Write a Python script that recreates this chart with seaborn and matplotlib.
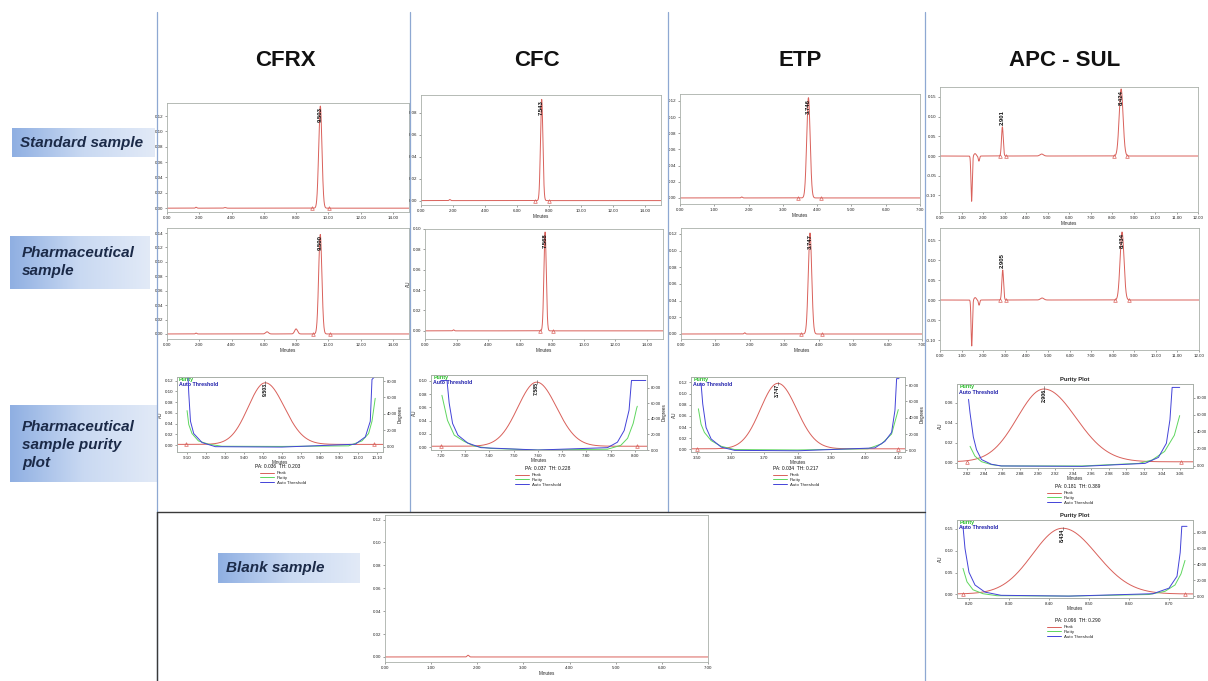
import numpy as np
import pandas as pd
import matplotlib
matplotlib.use("Agg")
import matplotlib.pyplot as plt
import seaborn as sns
from matplotlib.lines import Line2D
from matplotlib.colors import LinearSegmentedColormap

sns.set_theme(style="white")
plt.rcParams['font.family'] = ['Liberation Sans', 'DejaVu Sans']

W, H = 1208, 681
RED = "#d9605a"
GREEN = "#5fd65f"
BLUE = "#4343d8"

# ---------------- text ----------------
columns = ["CFRX", "CFC", "ETP", "APC - SUL"]
row_labels = ["Standard sample", "Pharmaceutical\nsample",
              "Pharmaceutical\nsample purity\nplot", "Blank sample"]

# ---------------- standard chromatograms ----------------
cfrx_std_rt = [1.80, 3.60, 9.503]
cfrx_std_h = [0.0012, 0.0008, 0.133]
cfrx_std_sd = [0.04, 0.06, 0.10]
cfrx_std_lab = [None, None, "9.503"]
cfrx_std_tri = [9.00, 10.05]

cfc_std_rt = [1.80, 7.543]
cfc_std_h = [0.0010, 0.092]
cfc_std_sd = [0.04, 0.075]
cfc_std_lab = [None, "7.543"]
cfc_std_tri = [7.10, 8.00]

etp_std_rt = [1.80, 3.746]
etp_std_h = [0.0012, 0.124]
etp_std_sd = [0.02, 0.05]
etp_std_lab = [None, "3.746"]
etp_std_tri = [3.45, 4.10]

apc_std_rt = [1.47, 1.63, 1.81, 2.901, 4.73, 8.424]
apc_std_h = [-0.115, 0.006, -0.013, 0.074, 0.005, 0.170]
apc_std_sd = [0.03, 0.05, 0.03, 0.04, 0.08, 0.09]
apc_std_lab = [None, None, None, "2.901", None, "8.424"]
apc_std_tri = [2.79, 3.06, 8.10, 8.70]

# ---------------- pharmaceutical chromatograms ----------------
cfrx_ph_rt = [1.80, 6.20, 8.00, 9.500]
cfrx_ph_h = [0.0012, 0.003, 0.007, 0.138]
cfrx_ph_sd = [0.04, 0.09, 0.09, 0.10]
cfrx_ph_lab = [None, None, None, "9.500"]
cfrx_ph_tri = [9.06, 10.10]

cfc_ph_rt = [1.80, 7.568]
cfc_ph_h = [0.0010, 0.097]
cfc_ph_sd = [0.04, 0.075]
cfc_ph_lab = [None, "7.568"]
cfc_ph_tri = [7.27, 8.09]

etp_ph_rt = [1.85, 3.747]
etp_ph_h = [0.0015, 0.121]
etp_ph_sd = [0.02, 0.05]
etp_ph_lab = [None, "3.747"]
etp_ph_tri = [3.49, 4.10]

apc_ph_rt = [1.47, 1.63, 1.81, 2.905, 4.73, 8.434]
apc_ph_h = [-0.115, 0.006, -0.013, 0.075, 0.005, 0.170]
apc_ph_sd = [0.03, 0.05, 0.03, 0.04, 0.08, 0.09]
apc_ph_lab = [None, None, None, "2.905", None, "8.434"]
apc_ph_tri = [2.80, 3.06, 8.12, 8.74]

# ---------------- blank ----------------
blank_rt = [1.80]
blank_h = [0.0015]
blank_sd = [0.02]

# ---------------- purity plots ----------------
cfrx_pur_peak = (9.512, 0.115, 0.090, 0.100)   # rt, height, sd left, sd right
cfrx_pur_t = [9.100, 9.109, 9.126, 9.160, 9.214, 9.284, 9.600, 9.951, 10.021, 10.056, 10.074, 10.091]
cfrx_pur_d = [44, 27, 16, 7, 3, 0.5, 0.3, 1, 7, 16, 31, 59]
cfrx_thr_t = [9.105, 9.109, 9.118, 9.135, 9.179, 9.249, 9.600, 9.986, 10.039, 10.065, 10.074, 10.091]
cfrx_thr_d = [86, 65, 31, 16, 5, 0, -0.5, 3, 12, 31, 82, 86]
cfrx_pur_tri = [9.095, 10.082]
cfrx_pa = "PA: 0.036  TH: 0.203"

cfc_pur_peak = (7.595, 0.097, 0.078, 0.082)
cfc_pur_t = [7.204, 7.227, 7.255, 7.296, 7.337, 7.406, 7.600, 7.887, 7.942, 7.970, 7.993, 8.007, 8.010]
cfc_pur_d = [70, 38, 19, 11, 5, 2, 0, 1, 6, 15, 34, 53, 56]
cfc_thr_t = [7.200, 7.225, 7.234, 7.248, 7.270, 7.310, 7.365, 7.600, 7.887, 7.928, 7.956, 7.976, 7.986, 8.045]
cfc_thr_d = [89, 89, 60, 34, 19, 9, 3, 0, 3, 10, 25, 51, 89, 89]
cfc_pur_tri = [7.20, 8.01]
cfc_pa = "PA: 0.037  TH: 0.228"

etp_pur_peak = (3.741, 0.117, 0.052, 0.056)
etp_pur_t = [3.504, 3.512, 3.522, 3.542, 3.572, 3.612, 3.800, 4.010, 4.050, 4.080, 4.100]
etp_pur_d = [51, 32, 22, 12, 5, 1, 0.5, 2, 8, 20, 50]
etp_thr_t = [3.512, 3.517, 3.527, 3.542, 3.572, 3.612, 3.800, 4.030, 4.060, 4.080, 4.090, 4.095, 4.102]
etp_thr_d = [82, 57, 28, 14, 4, 0, -0.5, 3, 11, 22, 49, 88, 88]
etp_pur_tri = [3.50, 4.10]
etp_pa = "PA: 0.034  TH: 0.217"

apc1_pur_peak = (2.907, 0.0728, 0.030, 0.036)
apc1_pur_t = [2.8237, 2.8292, 2.8366, 2.8477, 2.8588, 2.950, 3.014, 3.029, 3.043, 3.054, 3.060]
apc1_pur_d = [23, 11.5, 5, 1.6, 0, 0, 3, 7, 17, 36, 59]
apc1_thr_t = [2.822, 2.8237, 2.8274, 2.831, 2.8366, 2.8477, 2.8588, 2.950, 3.021, 3.036, 3.045, 3.049, 3.0515, 3.060]
apc1_thr_d = [78, 62, 34, 19, 7.5, 2, 0, -0.5, 3, 10, 26.5, 54, 92, 92]
apc1_pur_tri = [2.820, 3.061]
apc1_pa = "PA: 0.181  TH: 0.389"

apc2_pur_peak = (8.434, 0.150, 0.075, 0.085)
apc2_pur_t = [8.185, 8.195, 8.210, 8.235, 8.270, 8.450, 8.650, 8.690, 8.715, 8.730, 8.740]
apc2_pur_d = [35, 18, 8, 3, 0.5, 0, 2, 6, 14, 28, 45]
apc2_thr_t = [8.185, 8.190, 8.200, 8.215, 8.240, 8.280, 8.450, 8.660, 8.700, 8.720, 8.728, 8.732, 8.745]
apc2_thr_d = [88, 60, 30, 14, 5, 1, 0, 3, 10, 25, 55, 88, 88]
apc2_pur_tri = [8.185, 8.740]
apc2_pa = "PA: 0.096  TH: 0.290"

# =====================================================================
fig = plt.figure(figsize=(W / 100, H / 100), dpi=100)
fig.patch.set_facecolor("white")


def add_ax(x0, y0, x1, y1):
    return fig.add_axes([x0 / W, 1 - y1 / H, (x1 - x0) / W, (y1 - y0) / H])


def fx(x):
    return x / W


def fy(y):
    return 1 - y / H


def style(ax, xlim, ylim, xticks, yticks, xlabel="", ylabel="", xpad=1.0):
    ax.set_xlim(xlim)
    ax.set_ylim(ylim)
    ax.set_xticks(xticks)
    ax.set_yticks(yticks)
    ax.set_xticklabels(["%.2f" % v for v in xticks])
    ax.set_yticklabels(["%.2f" % v for v in yticks])
    ax.tick_params(labelsize=3.2, length=1.5, width=0.4, pad=1.2,
                   colors="#555555", labelcolor="#222222", bottom=True, left=True)
    for s in ax.spines.values():
        s.set_color("#a9b0a9")
        s.set_linewidth(0.6)
    ax.set_xlabel(xlabel, fontsize=3.3, labelpad=xpad, color="#222222")
    ax.set_ylabel(ylabel, fontsize=3.3, labelpad=1, color="#222222")
    ax.set_facecolor("white")


def chromatogram(ax, xlim, rts, hs, sds, labs, tris):
    t = np.linspace(xlim[0], xlim[1], 5000)
    y = np.zeros_like(t)
    for rt, h, sd in zip(rts, hs, sds):
        y += h * np.exp(-0.5 * ((t - rt) / sd) ** 2)
    df = pd.DataFrame({"Minutes": t, "AU": y})
    sns.lineplot(data=df, x="Minutes", y="AU", ax=ax, color=RED, lw=0.7,
                 estimator=None, sort=False, legend=False)
    ax.plot(tris, [0] * len(tris), ls="none", marker="^", ms=2.6, mfc="none",
            mec=RED, mew=0.5)
    for rt, h, lab in zip(rts, hs, labs):
        if lab is None:
            continue
        ax.text(rt, h * 0.99 if h > 0.09 else h + 0.004, lab, rotation=90,
                ha="center", va="top" if h > 0.09 else "bottom",
                fontsize=4.2, fontweight="bold", color="#111111")


def purity(ax, xlim, ylim, dlim, xticks, yticks, dticks, peak, pt, pd_, tt, td,
           tris, pa, pa_xy, leg_xy, title=None, lab="", deg_label=True):
    rt, h, sl, sr = peak
    t = np.linspace(xlim[0], xlim[1], 3000)
    sd = np.where(t < rt, sl, sr)
    y = 0.0012 + h * np.exp(-0.5 * ((t - rt) / sd) ** 2)
    sns.lineplot(x=t, y=y, ax=ax, color=RED, lw=0.7, estimator=None,
                 sort=False, legend=False)
    ax.plot(tris, [0.0012] * len(tris), ls="none", marker="^", ms=2.6,
            mfc="none", mec=RED, mew=0.5)
    ax.text(rt, h + 0.001, lab, rotation=90, ha="center", va="top",
            fontsize=3.8, fontweight="bold", color="#111111")
    ax.plot([rt, rt], [h - 0.002, h + 0.004], color="#444444", lw=0.4)
    style(ax, xlim, ylim, xticks, yticks, "Minutes", "AU", xpad=0.4)
    ax2 = ax.twinx()
    sns.lineplot(x=pt, y=pd_, ax=ax2, color=GREEN, lw=0.7, estimator=None,
                 sort=False, legend=False)
    sns.lineplot(x=tt, y=td, ax=ax2, color=BLUE, lw=0.7, estimator=None,
                 sort=False, legend=False)
    ax2.set_ylim(dlim)
    ax2.set_yticks(dticks)
    ax2.set_yticklabels(["%.2f" % v for v in dticks])
    ax2.tick_params(labelsize=3.0, length=1.5, width=0.4, pad=1.0,
                    colors="#555555", labelcolor="#222222", right=True)
    ax2.set_ylabel("Degrees" if deg_label else "", fontsize=3.3, labelpad=1,
                   color="#222222")
    for s in ax2.spines.values():
        s.set_color("#a9b0a9")
        s.set_linewidth(0.6)
    ax.text(0.01, 0.995, "Purity", transform=ax.transAxes, fontsize=3.8,
            color="#22bb22", fontweight="bold", va="top", ha="left")
    ax.text(0.01, 0.93, "Auto Threshold", transform=ax.transAxes, fontsize=3.8,
            color="#1d1daa", fontweight="bold", va="top", ha="left")
    if title:
        ax.set_title(title, fontsize=4.2, fontweight="bold", pad=2)
    fig.text(fx(pa_xy[0]), fy(pa_xy[1]), pa, fontsize=3.5, ha="center",
             va="center", color="#111111")
    handles = [Line2D([], [], color=RED, lw=0.7),
               Line2D([], [], color=GREEN, lw=0.7),
               Line2D([], [], color=BLUE, lw=0.7)]
    fig.legend(handles, ["Peak", "Purity", "Auto Threshold"], loc="upper left",
               bbox_to_anchor=(fx(leg_xy[0]), fy(leg_xy[1])), frameon=False,
               fontsize=3.2, handlelength=3.2, handletextpad=0.6,
               labelspacing=0.15, borderpad=0, borderaxespad=0)


def row_box(x0, y0, x1, y1, text, tx, ty, ha="left"):
    bx = add_ax(x0, y0, x1, y1)
    grad = np.linspace(0, 1, 256)[None, :]
    cm = LinearSegmentedColormap.from_list("b", ["#8fafe2", "#c9d9f2", "#e2eaf7"])
    bx.imshow(grad, aspect="auto", cmap=cm, extent=[0, 1, 0, 1])
    bx.set_axis_off()
    fig.text(fx(tx), fy(ty), text, fontsize=11, fontweight="bold",
             fontstyle="italic", color="#1b2a48", ha=ha, va="center",
             linespacing=1.35)


# ---------------- divider lines ----------------
line_col = "#8ea8d2"
for xv in [157, 410, 668, 925]:
    yb = 681 if xv in (157, 925) else 512
    fig.add_artist(Line2D([fx(xv), fx(xv)], [fy(12), fy(yb)], color=line_col, lw=0.9))
fig.add_artist(Line2D([fx(157), fx(925)], [fy(512), fy(512)], color="#3a3a3a", lw=1.0))
fig.add_artist(Line2D([fx(157), fx(157)], [fy(512), fy(681)], color="#3a3a3a", lw=1.0))

# ---------------- headers ----------------
for name, xc in zip(columns, [285, 537, 800, 1065]):
    fig.text(fx(xc), fy(60), name, fontsize=16, fontweight="bold", ha="center",
             va="center", color="#111111")

# ---------------- row labels ----------------
row_box(12, 128, 155, 157, row_labels[0], 20, 143)
row_box(10, 236, 150, 289, row_labels[1], 22, 262)
row_box(10, 405, 157, 482, row_labels[2], 22, 445)
row_box(218, 553, 360, 583, row_labels[3], 226, 568)

# ---------------- row 1: standards ----------------
ax = add_ax(167, 103, 409, 212)
chromatogram(ax, (0, 15), cfrx_std_rt, cfrx_std_h, cfrx_std_sd, cfrx_std_lab, cfrx_std_tri)
style(ax, (0, 15), (-0.005, 0.137), np.arange(0, 15, 2.0), np.arange(0, 0.121, 0.02))

ax = add_ax(421, 95, 661, 205)
chromatogram(ax, (0, 15), cfc_std_rt, cfc_std_h, cfc_std_sd, cfc_std_lab, cfc_std_tri)
style(ax, (0, 15), (-0.004, 0.096), np.arange(0, 15, 2.0), np.arange(0, 0.081, 0.02), "Minutes")

ax = add_ax(680, 94, 920, 204)
chromatogram(ax, (0, 7), etp_std_rt, etp_std_h, etp_std_sd, etp_std_lab, etp_std_tri)
style(ax, (0, 7), (-0.0075, 0.1286), np.arange(0, 7.01, 1.0), np.arange(0, 0.121, 0.02), "Minutes")

ax = add_ax(940, 87, 1198, 212)
chromatogram(ax, (0, 12), apc_std_rt, apc_std_h, apc_std_sd, apc_std_lab, apc_std_tri)
style(ax, (0, 12), (-0.142, 0.175), np.arange(0, 12.01, 1.0), np.arange(-0.10, 0.151, 0.05), "Minutes")

# ---------------- row 2: pharmaceutical ----------------
ax = add_ax(167, 228, 409, 339)
chromatogram(ax, (0, 15), cfrx_ph_rt, cfrx_ph_h, cfrx_ph_sd, cfrx_ph_lab, cfrx_ph_tri)
style(ax, (0, 15), (-0.007, 0.147), np.arange(0, 15, 2.0), np.arange(0, 0.141, 0.02), "Minutes")

ax = add_ax(425, 229, 663, 339)
chromatogram(ax, (0, 15), cfc_ph_rt, cfc_ph_h, cfc_ph_sd, cfc_ph_lab, cfc_ph_tri)
style(ax, (0, 15), (-0.008, 0.100), np.arange(0, 15, 2.0), np.arange(0, 0.101, 0.02), "Minutes", "AU")

ax = add_ax(681, 228, 922, 339)
chromatogram(ax, (0, 7), etp_ph_rt, etp_ph_h, etp_ph_sd, etp_ph_lab, etp_ph_tri)
style(ax, (0, 7), (-0.006, 0.127), np.arange(0, 7.01, 1.0), np.arange(0, 0.121, 0.02), "Minutes")

ax = add_ax(940, 228, 1199, 350)
chromatogram(ax, (0, 12), apc_ph_rt, apc_ph_h, apc_ph_sd, apc_ph_lab, apc_ph_tri)
style(ax, (0, 12), (-0.125, 0.18), np.arange(0, 12.01, 1.0), np.arange(-0.10, 0.151, 0.05))

# ---------------- row 3: purity plots ----------------
ax = add_ax(177, 377, 383, 452)
purity(ax, (9.047, 10.132), (-0.013, 0.127), (-6.5, 85), np.arange(9.10, 10.11, 0.10),
       np.arange(0, 0.121, 0.02), np.arange(0, 80.1, 20), cfrx_pur_peak,
       cfrx_pur_t, cfrx_pur_d, cfrx_thr_t, cfrx_thr_d, cfrx_pur_tri, cfrx_pa,
       (278, 467), (260, 471), lab="9.503")

ax = add_ax(431, 375, 647, 450)
purity(ax, (7.159, 8.05), (-0.0045, 0.109), (0, 96), np.arange(7.20, 8.01, 0.10),
       np.arange(0, 0.101, 0.02), np.arange(0, 80.1, 20), cfc_pur_peak,
       cfc_pur_t, cfc_pur_d, cfc_thr_t, cfc_thr_d, cfc_pur_tri, cfc_pa,
       (548, 469), (515, 473), lab="7.585")

ax = add_ax(691, 377, 905, 452)
purity(ax, (3.482, 4.12), (-0.0045, 0.1295), (-2, 90), np.arange(3.50, 4.101, 0.10),
       np.arange(0, 0.121, 0.02), np.arange(0, 80.1, 20), etp_pur_peak,
       etp_pur_t, etp_pur_d, etp_thr_t, etp_thr_d, etp_pur_tri, etp_pa,
       (796, 469), (773, 473), lab="3.747")

ax = add_ax(957, 384, 1193, 468)
purity(ax, (2.809, 3.075), (-0.005, 0.079), (-2.4, 96), np.arange(2.82, 3.061, 0.02),
       np.arange(0, 0.061, 0.02), np.arange(0, 80.1, 20), apc1_pur_peak,
       apc1_pur_t, apc1_pur_d, apc1_thr_t, apc1_thr_d, apc1_pur_tri, apc1_pa,
       (1078, 487), (1047, 491), title="Purity Plot", lab="2.906", deg_label=False)

ax = add_ax(957, 520, 1193, 598)
purity(ax, (8.17, 8.76), (-0.008, 0.17), (-2.4, 96), np.arange(8.20, 8.71, 0.10),
       np.arange(0, 0.151, 0.05), np.arange(0, 80.1, 20), apc2_pur_peak,
       apc2_pur_t, apc2_pur_d, apc2_thr_t, apc2_thr_d, apc2_pur_tri, apc2_pa,
       (1078, 620), (1047, 625), title="Purity Plot", lab="8.434", deg_label=False)

# ---------------- blank ----------------
ax = add_ax(385, 515, 708, 662)
chromatogram(ax, (0, 7), blank_rt, blank_h, blank_sd, [None], [])
style(ax, (0, 7), (-0.0044, 0.124), np.arange(0, 7.01, 1.0), np.arange(0, 0.121, 0.02), "Minutes")

fig.savefig("out.png", dpi=100, facecolor="white")
